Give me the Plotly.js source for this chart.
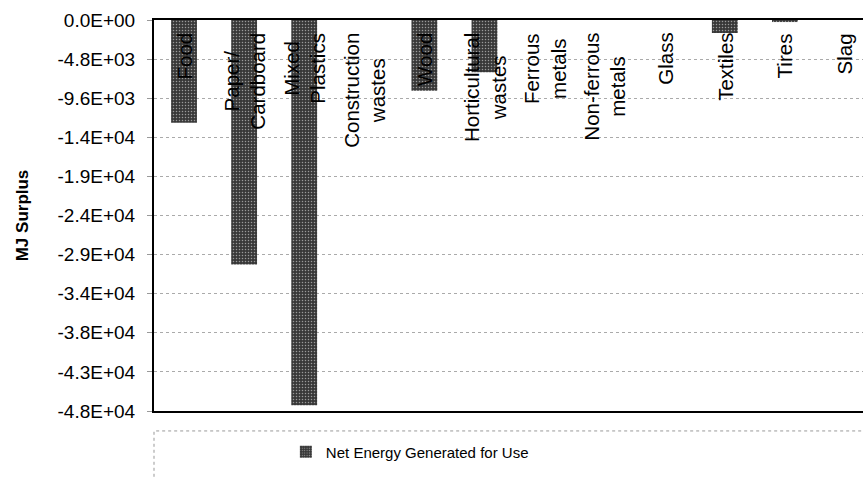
<!DOCTYPE html>
<html>
<head>
<meta charset="utf-8">
<script src="https://cdn.plot.ly/plotly-3.0.1.min.js"></script>
<style>html,body{margin:0;padding:0;background:#fff;}#chart{width:863px;height:478px;}</style>
</head>
<body>
<div id="chart"></div>
<script>
var categories = ["Food", "Paper/ Cardboard", "Mixed Plastics", "Construction wastes", "Wood", "Horticultural wastes", "Ferrous metals", "Non-ferrous metals", "Glass", "Textiles", "Tires", "Slag"];
var categoryLabels = ["Food", "Paper/<br>Cardboard", "Mixed<br>Plastics", "Construction<br>wastes", "Wood", "Horticultural<br>wastes", "Ferrous<br>metals", "Non-ferrous<br>metals", "Glass", "Textiles", "Tires", "Slag"];
var netEnergy = [-12600, -30000, -47300, 0, -8700, -6400, 0, 0, 0, -1600, -250, 0];
var tickValues = [0, -4800, -9600, -14400, -19200, -24000, -28800, -33600, -38400, -43200, -48000];
var tickLabels = ["0.0E+00", "-4.8E+03", "-9.6E+03", "-1.4E+04", "-1.9E+04", "-2.4E+04", "-2.9E+04", "-3.4E+04", "-3.8E+04", "-4.3E+04", "-4.8E+04"];
var seriesName = "Net Energy Generated for Use";

var FONT = "Liberation Sans, Arial, sans-serif";

var trace = {
  type: "bar",
  x: categories,
  y: netEnergy,
  name: seriesName,
  marker: {
    color: "#383838",
    line: {width: 0},
    pattern: {shape: ".", fgcolor: "#9a9a9a", bgcolor: "#383838", size: 3, solidity: 0.2}
  },
  showlegend: true
};

var annotations = categories.map(function (c, i) {
  return {
    x: c, y: 0, xref: "x", yref: "y",
    text: categoryLabels[i],
    textangle: -90,
    showarrow: false,
    xanchor: "center", yanchor: "top",
    yshift: -11,
    align: "center",
    font: {family: FONT, size: 20.5, color: "#000"}
  };
});

var layout = {
  width: 863, height: 478,
  margin: {l: 154, r: 0, t: 20, b: 67, pad: 0},
  paper_bgcolor: "#fff", plot_bgcolor: "#fff",
  font: {family: FONT, color: "#000"},
  bargap: 0.57,
  xaxis: {
    type: "category",
    range: [-0.5, 11.3],
    showticklabels: false,
    ticks: "",
    showgrid: false,
    zeroline: false,
    showline: true, linecolor: "#000", linewidth: 2, mirror: true
  },
  yaxis: {
    range: [-48000, 0],
    tickvals: tickValues,
    ticktext: tickLabels,
    tickfont: {family: FONT, size: 19, color: "#000"},
    ticks: "outside", ticklen: 5, tickcolor: "#999", tickwidth: 1,
    ticklabelstandoff: 8,
    showgrid: true, gridcolor: "#aaaaaa", griddash: "dot", gridwidth: 1,
    zeroline: false,
    showline: true, linecolor: "#000", linewidth: 2,
    title: {text: "MJ Surplus", font: {family: FONT, size: 17, color: "#000", weight: "bold"}, standoff: 25}
  },
  legend: {
    x: 0.186, xanchor: "left",
    y: -0.105, yanchor: "middle",
    orientation: "h",
    bgcolor: "rgba(0,0,0,0)",
    font: {family: FONT, size: 15, color: "#000"}
  },
  shapes: [{
    type: "rect", xref: "paper", yref: "paper",
    x0: 0, x1: 1.05, y0: -0.2, y1: -0.051,
    line: {color: "#999", width: 1, dash: "dot"},
    fillcolor: "rgba(0,0,0,0)"
  }],
  annotations: annotations
};

Plotly.newPlot("chart", [trace], layout, {displayModeBar: false, staticPlot: true});
</script>
</body>
</html>
